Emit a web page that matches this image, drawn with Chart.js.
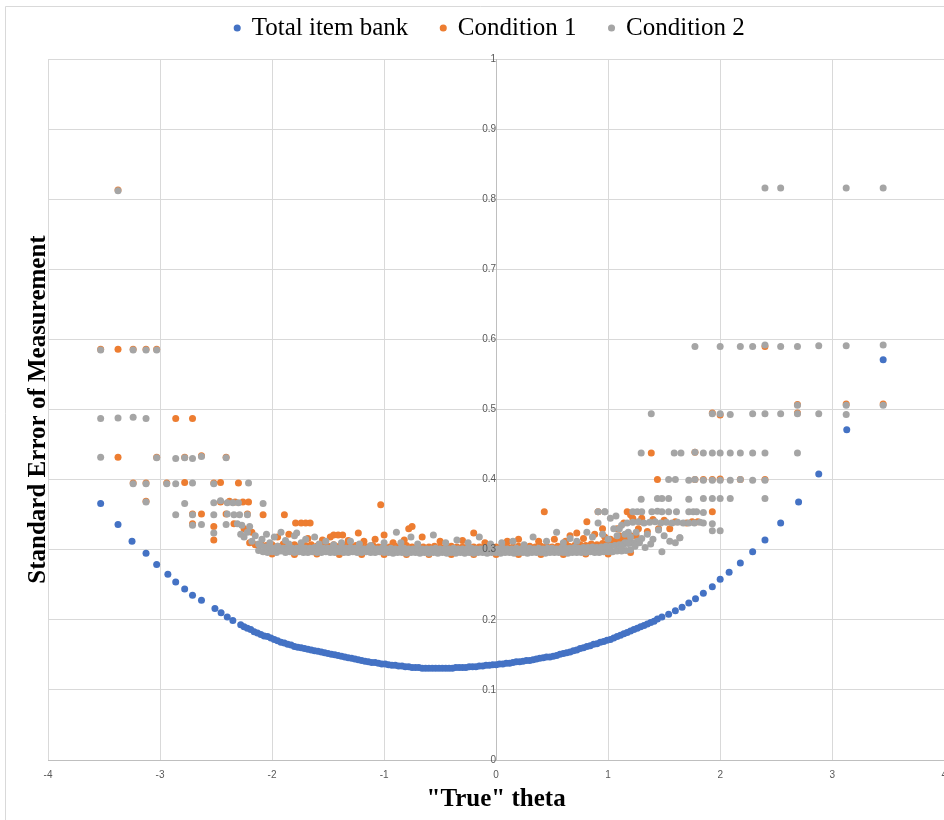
<!DOCTYPE html>
<html><head><meta charset="utf-8">
<script src="https://cdn.jsdelivr.net/npm/chart.js@4.4.1/dist/chart.umd.min.js"></script>
<style>html,body{margin:0;padding:0;background:#fff;overflow:hidden;width:944px;height:820px}canvas{display:block}</style>
</head><body><canvas id="c" width="956" height="820"></canvas>
<script>
const seriesNames = ['Total item bank', 'Condition 1', 'Condition 2'];
const xTitle = '"True" theta';
const yTitle = 'Standard Error of Measurement';
const xTickLabels = ['-4','-3','-2','-1','0','1','2','3','4'];
const yTickLabels = ['0','0.1','0.2','0.3','0.4','0.5','0.6','0.7','0.8','0.9','1'];

// Total item bank
const bankTheta = [-3.53,-3.375,-3.25,-3.125,-3.03,-2.93,-2.86,-2.78,-2.71,-2.63,-2.51,-2.455,-2.40,-2.35,
 -2.28,-2.25,-2.22,-2.19,-2.16,-2.13,-2.10,-2.07,-2.04,-2.01,
 -1.98,-1.95,-1.92,-1.89,-1.86,-1.83,-1.80,-1.77,-1.74,-1.71,
 -1.68,-1.65,-1.62,-1.59,-1.56,-1.53,-1.50,-1.47,-1.44,-1.41,
 -1.38,-1.35,-1.32,-1.29,-1.26,-1.23,-1.20,-1.17,-1.14,-1.11,
 -1.08,-1.05,-1.02,-0.99,-0.96,-0.93,-0.90,-0.87,-0.84,-0.81,
 -0.78,-0.75,-0.72,-0.69,-0.66,-0.63,-0.60,-0.57,-0.54,-0.51,
 -0.48,-0.45,-0.42,-0.39,-0.36,-0.33,-0.30,-0.27,-0.24,-0.21,
 -0.18,-0.15,-0.12,-0.09,-0.06,-0.03,0.00,0.03,0.06,0.09,
 0.12,0.15,0.18,0.21,0.24,0.27,0.30,0.33,0.36,0.39,
 0.42,0.45,0.48,0.51,0.54,0.57,0.60,0.63,0.66,0.69,
 0.72,0.75,0.78,0.81,0.84,0.87,0.90,0.93,0.96,0.99,
 1.02,1.05,1.08,1.11,1.14,1.17,1.20,1.23,1.26,1.29,
 1.32,1.35,1.38,1.41,1.44,
 1.48,1.54,1.60,1.66,1.72,1.78,1.85,1.93,2.00,2.08,2.18,2.29,2.40,2.54,2.70,2.88,3.13,3.455];
const bankSE = [0.366,0.336,0.312,0.295,0.279,0.265,0.254,0.244,0.235,0.228,0.216,0.210,0.204,0.199,
 0.193,0.190,0.188,0.186,0.183,0.181,0.179,0.177,0.176,0.174,
 0.172,0.170,0.168,0.167,0.165,0.164,0.162,0.161,0.160,0.159,
 0.158,0.157,0.156,0.155,0.154,0.153,0.152,0.151,0.150,0.149,
 0.148,0.147,0.146,0.145,0.144,0.143,0.142,0.141,0.140,0.139,
 0.139,0.138,0.137,0.137,0.136,0.135,0.135,0.134,0.134,0.133,
 0.133,0.132,0.132,0.132,0.131,0.131,0.131,0.131,0.131,0.131,
 0.131,0.131,0.131,0.131,0.132,0.132,0.132,0.132,0.133,0.133,
 0.133,0.134,0.134,0.135,0.135,0.136,0.136,0.137,0.137,0.138,
 0.138,0.139,0.140,0.140,0.141,0.142,0.142,0.143,0.144,0.145,
 0.146,0.147,0.147,0.148,0.149,0.151,0.152,0.153,0.154,0.156,
 0.157,0.159,0.160,0.162,0.163,0.165,0.166,0.168,0.169,0.171,
 0.172,0.174,0.176,0.178,0.180,0.182,0.184,0.186,0.188,0.190,
 0.192,0.194,0.196,0.198,0.201,
 0.204,0.208,0.213,0.218,0.224,0.230,0.238,0.247,0.258,0.268,0.281,0.297,0.314,0.338,0.368,0.408,0.471,0.571];

// Condition 1: dense band near 0.3
const c1BandTheta = [-2.20,-2.15,-2.10,-2.05,-2.00,-1.95,-1.90,-1.85,-1.80,-1.75,
 -1.70,-1.65,-1.60,-1.55,-1.50,-1.45,-1.40,-1.35,-1.30,-1.25,
 -1.20,-1.15,-1.10,-1.05,-1.00,-0.95,-0.90,-0.85,-0.80,-0.75,
 -0.70,-0.65,-0.60,-0.55,-0.50,-0.45,-0.40,-0.35,-0.30,-0.25,
 -0.20,-0.15,-0.10,-0.05,0.00,0.05,0.10,0.15,0.20,0.25,
 0.30,0.35,0.40,0.45,0.50,0.55,0.60,0.65,0.70,0.75,
 0.80,0.85,0.90,0.95,1.00,1.05,1.10,1.15,1.20,1.25,
 -2.0,-1.8,-1.6,-1.4,-1.2,-1.0,-0.8,-0.6,-0.4,-0.2,0.0,0.2,0.4,0.6,0.8,1.0,1.2];
const c1BandSE = [0.310,0.307,0.308,0.306,0.307,0.305,0.308,0.306,0.307,0.305,
 0.306,0.307,0.305,0.306,0.305,0.307,0.305,0.306,0.305,0.306,
 0.305,0.304,0.306,0.304,0.305,0.304,0.305,0.304,0.306,0.304,
 0.305,0.304,0.304,0.305,0.304,0.304,0.305,0.304,0.304,0.305,
 0.304,0.304,0.305,0.304,0.304,0.305,0.304,0.304,0.305,0.304,
 0.305,0.304,0.305,0.305,0.304,0.305,0.306,0.305,0.306,0.307,
 0.306,0.308,0.307,0.309,0.310,0.312,0.314,0.316,0.318,0.320,
 0.294,0.293,0.294,0.293,0.293,0.293,0.293,0.293,0.293,0.293,0.293,0.293,0.293,0.293,0.294,0.294,0.296];
// Condition 1: scattered points
const c1PtsTheta = [-3.375,-3.53,-3.375,-3.24,-3.125,-3.03,-3.375,-2.86,-2.71,-3.03,
 -2.78,-2.63,-2.41,-3.24,-3.125,-2.94,-2.78,-2.52,-2.46,-2.30,
 -3.125,-2.46,-2.38,-2.33,-2.26,-2.21,-2.71,-2.63,-2.41,-2.22,
 -2.08,-1.89,-2.71,-2.52,-2.52,-2.34,-2.25,-2.18,-1.79,-1.74,
 -1.70,-1.66,-1.45,-1.41,-1.37,-1.23,-1.00,-1.03,-0.75,-0.78,
 -0.20,0.43,0.72,0.81,0.91,1.17,1.385,1.44,1.775,1.85,
 1.93,2.00,2.18,2.40,1.775,1.93,2.00,2.69,2.69,3.125,
 3.455,2.40,1.93,1.20,1.30,1.40,1.50,1.60,1.70,1.27,
 1.35,1.45,1.55,1.20,1.10,1.02,0.95,0.62,1.75,1.80,
 -1.95,-1.85,-1.68,-1.55,-1.48,-1.32,-1.18,-1.08,-0.92,-0.82,
 -0.66,-0.50,-0.30,-0.10,0.10,0.20,0.38,0.52,0.66,0.78,
 0.88,0.97,1.08,1.14,1.22,1.28];
const c1PtsSE = [0.813,0.586,0.586,0.586,0.586,0.586,0.432,0.487,0.487,0.432,
 0.432,0.434,0.432,0.395,0.395,0.395,0.396,0.395,0.396,0.395,
 0.369,0.368,0.369,0.368,0.368,0.368,0.351,0.351,0.351,0.351,
 0.350,0.350,0.337,0.333,0.314,0.337,0.330,0.325,0.338,0.338,
 0.338,0.338,0.321,0.321,0.321,0.324,0.321,0.364,0.333,0.330,
 0.324,0.354,0.324,0.340,0.354,0.354,0.438,0.400,0.400,0.400,
 0.400,0.401,0.400,0.400,0.439,0.495,0.492,0.495,0.507,0.508,
 0.508,0.590,0.354,0.350,0.345,0.343,0.342,0.340,0.338,0.330,
 0.326,0.330,0.330,0.320,0.320,0.315,0.330,0.312,0.340,0.340,
 0.318,0.322,0.316,0.314,0.318,0.313,0.312,0.315,0.310,0.314,
 0.318,0.312,0.313,0.310,0.312,0.315,0.312,0.315,0.320,0.316,
 0.322,0.318,0.330,0.338,0.345,0.340];

// Condition 2: dense band near 0.3
const c2BandTheta = [-2.12,-2.08,-2.04,-2.00,-1.96,-1.92,-1.88,-1.84,-1.80,-1.76,
 -1.72,-1.68,-1.64,-1.60,-1.56,-1.52,-1.48,-1.44,-1.40,-1.36,
 -1.32,-1.28,-1.24,-1.20,-1.16,-1.12,-1.08,-1.04,-1.00,-0.96,
 -0.92,-0.88,-0.84,-0.80,-0.76,-0.72,-0.68,-0.64,-0.60,-0.56,
 -0.52,-0.48,-0.44,-0.40,-0.36,-0.32,-0.28,-0.24,-0.20,-0.16,
 -0.12,-0.08,-0.04,0.00,0.04,0.08,0.12,0.16,0.20,0.24,
 0.28,0.32,0.36,0.40,0.44,0.48,0.52,0.56,0.60,0.64,
 0.68,0.72,0.76,0.80,0.84,0.88,0.92,0.96,1.00,1.04,
 1.08,1.12,1.16,1.20,
 -2.10,-2.06,-2.02,-1.98,-1.94,-1.90,-1.86,-1.82,-1.78,-1.74,
 -1.70,-1.66,-1.62,-1.58,-1.54,-1.50,-1.46,-1.42,-1.38,-1.34,
 -1.30,-1.26,-1.22,-1.18,-1.14,-1.10,-1.06,-1.02,-0.98,-0.94,
 -0.90,-0.86,-0.82,-0.78,-0.74,-0.70,-0.66,-0.62,-0.58,-0.54,
 -0.50,-0.46,-0.42,-0.38,-0.34,-0.30,-0.26,-0.22,-0.18,-0.14,
 -0.10,-0.06,-0.02,0.02,0.06,0.10,0.14,0.18,0.22,0.26,
 0.30,0.34,0.38,0.42,0.46,0.50,0.54,0.58,0.62,0.66,
 0.70,0.74,0.78,0.82,0.86,0.90,0.94,0.98,1.02,1.06,
 1.10,1.14,1.18,1.22,1.26];
const c2BandSE = [0.299,0.297,0.296,0.297,0.296,0.298,0.296,0.297,0.296,0.297,
 0.296,0.296,0.297,0.296,0.296,0.297,0.296,0.296,0.297,0.296,
 0.296,0.297,0.296,0.296,0.297,0.296,0.296,0.297,0.296,0.296,
 0.295,0.296,0.296,0.295,0.296,0.296,0.295,0.296,0.295,0.296,
 0.295,0.296,0.295,0.296,0.295,0.296,0.295,0.296,0.295,0.296,
 0.296,0.295,0.296,0.296,0.295,0.296,0.296,0.295,0.296,0.296,
 0.295,0.296,0.296,0.296,0.295,0.296,0.296,0.296,0.296,0.295,
 0.296,0.296,0.296,0.296,0.297,0.296,0.296,0.297,0.297,0.297,
 0.298,0.298,0.299,0.300,
 0.306,0.304,0.303,0.302,0.303,0.302,0.303,0.302,0.302,0.303,
 0.302,0.302,0.303,0.302,0.302,0.302,0.303,0.302,0.302,0.302,
 0.303,0.302,0.302,0.301,0.302,0.302,0.301,0.302,0.301,0.302,
 0.301,0.301,0.302,0.301,0.301,0.302,0.301,0.301,0.301,0.302,
 0.301,0.301,0.301,0.302,0.301,0.301,0.301,0.302,0.301,0.301,
 0.302,0.301,0.301,0.301,0.302,0.301,0.301,0.302,0.301,0.301,
 0.302,0.301,0.302,0.301,0.302,0.302,0.301,0.302,0.302,0.302,
 0.303,0.302,0.303,0.303,0.304,0.303,0.304,0.305,0.305,0.306,
 0.307,0.308,0.309,0.310,0.312];
// Condition 2: scattered points
const c2PtsTheta = [-3.375,-3.53,-3.24,-3.125,-3.03,-3.53,-3.375,-3.24,-3.125,-3.53,
 -3.03,-2.86,-2.78,-2.71,-2.63,-2.41,-3.24,-3.125,-2.94,-2.86,
 -2.71,-2.52,-2.21,-3.125,-2.78,-2.52,-2.46,-2.40,-2.35,-2.30,
 -2.08,-2.86,-2.71,-2.52,-2.40,-2.34,-2.29,-2.22,-2.71,-2.63,
 -2.41,-2.31,-2.27,-2.52,-2.20,-2.28,-2.25,-2.22,-2.18,-2.15,
 -2.12,-2.09,-2.05,-2.02,-1.98,-1.95,-1.92,-1.88,-1.85,-1.80,
 -1.78,-1.74,-1.70,-1.62,-1.58,-1.52,-1.45,-1.38,-1.30,-1.22,
 -1.12,-1.00,-0.89,-0.85,-0.76,-0.70,-0.56,-0.45,-0.35,-0.25,
 -0.15,-0.05,0.05,0.15,0.25,0.33,0.45,0.54,0.60,0.66,
 0.72,0.81,0.86,0.91,0.97,0.95,1.00,1.05,1.08,1.12,
 1.15,1.18,1.10,1.15,1.20,1.25,1.30,1.35,1.40,1.45,
 1.50,1.55,1.60,1.64,1.48,1.12,1.18,1.24,1.28,1.33,
 1.38,2.40,2.54,3.125,3.455,1.775,2.00,2.18,2.29,2.40,
 2.54,2.69,2.88,3.125,3.455,2.69,3.125,3.455,1.385,1.93,
 2.00,2.09,2.29,2.40,2.54,2.69,2.88,3.125,1.295,1.59,
 1.65,1.775,1.85,1.93,2.00,2.09,2.18,2.29,2.40,2.69,
 1.54,1.60,1.72,1.775,1.85,1.93,2.00,2.09,2.18,2.29,
 2.40,1.295,1.44,1.48,1.54,1.72,1.85,1.93,2.00,2.09,
 2.40,1.22,1.26,1.30,1.39,1.44,1.48,1.54,1.61,1.72,
 1.76,1.79,1.85,1.17,1.22,1.27,1.32,1.37,1.42,1.47,
 1.52,1.57,1.62,1.67,1.72,1.77,1.82,1.85,1.93,1.93,
 2.00,1.64,0.91,0.97,1.02,1.07];
const c2PtsSE = [0.812,0.585,0.585,0.585,0.585,0.487,0.488,0.489,0.487,0.432,
 0.431,0.430,0.431,0.430,0.433,0.431,0.394,0.394,0.394,0.394,
 0.395,0.394,0.395,0.368,0.366,0.367,0.370,0.367,0.367,0.367,
 0.366,0.350,0.350,0.350,0.351,0.350,0.350,0.350,0.335,0.336,
 0.336,0.337,0.335,0.324,0.333,0.322,0.318,0.325,0.312,0.320,
 0.308,0.315,0.322,0.310,0.318,0.305,0.325,0.313,0.308,0.320,
 0.324,0.310,0.315,0.318,0.308,0.312,0.307,0.310,0.312,0.308,
 0.306,0.310,0.325,0.310,0.318,0.308,0.321,0.310,0.314,0.310,
 0.318,0.308,0.310,0.312,0.307,0.318,0.312,0.325,0.310,0.316,
 0.312,0.325,0.318,0.338,0.354,0.322,0.315,0.330,0.320,0.335,
 0.310,0.325,0.330,0.322,0.318,0.325,0.316,0.322,0.315,0.328,
 0.320,0.312,0.310,0.317,0.297,0.305,0.310,0.305,0.310,0.303,
 0.308,0.816,0.816,0.816,0.816,0.590,0.590,0.590,0.590,0.592,
 0.590,0.590,0.591,0.591,0.592,0.506,0.506,0.506,0.494,0.494,
 0.494,0.493,0.494,0.494,0.494,0.494,0.494,0.493,0.438,0.438,
 0.438,0.439,0.438,0.438,0.438,0.438,0.438,0.438,0.438,0.438,
 0.400,0.400,0.399,0.400,0.399,0.399,0.399,0.399,0.400,0.399,
 0.399,0.372,0.373,0.373,0.373,0.372,0.373,0.373,0.373,0.373,
 0.373,0.354,0.354,0.354,0.354,0.355,0.354,0.354,0.354,0.354,
 0.354,0.354,0.353,0.338,0.339,0.340,0.338,0.339,0.340,0.338,
 0.339,0.338,0.339,0.338,0.338,0.338,0.339,0.338,0.337,0.327,
 0.327,0.317,0.354,0.354,0.345,0.348];

const toPts = (xs, ys) => xs.map((x, i) => ({x: x, y: ys[i]}));
const colors = ['#4472C4', '#ED7D31', '#A5A5A5'];
const serif = '"Liberation Serif", "Times New Roman", serif';
const sans = '"Liberation Sans", Arial, sans-serif';

const framePlugin = {
  id: 'frame',
  beforeDraw(chart) {
    const c = chart.ctx;
    c.save();
    c.fillStyle = '#fff';
    c.fillRect(0, 0, chart.width, chart.height);
    c.strokeStyle = '#D9D9D9';
    c.lineWidth = 1;
    c.beginPath();
    c.moveTo(5.5, chart.height); c.lineTo(5.5, 6.5); c.lineTo(chart.width, 6.5);
    c.stroke();
    c.restore();
  }
};
const legendNudge = {
  id: 'legendNudge',
  afterLayout(chart) {
    const lg = chart.legend;
    if (!lg) return;
    lg.top -= 8.5; lg.bottom -= 8.5;
    lg.left += 1.5; lg.right += 1.5;
  }
};

const mk = (i, data, order) => ({
  label: seriesNames[i], data: data, yAxisID: 'y', xAxisID: 'x',
  backgroundColor: colors[i], borderColor: colors[i],
  pointRadius: 3.5, pointBorderWidth: 0, pointHoverRadius: 3.5, order: order
});

new Chart(document.getElementById('c'), {
  type: 'scatter',
  data: {
    datasets: [
      mk(0, toPts(bankTheta, bankSE), 3),
      mk(1, toPts(c1BandTheta, c1BandSE).concat(toPts(c1PtsTheta, c1PtsSE)), 2),
      mk(2, toPts(c2BandTheta, c2BandSE).concat(toPts(c2PtsTheta, c2PtsSE)), 1)
    ]
  },
  options: {
    responsive: false, animation: false, events: [],
    layout: {padding: {left: 21, top: -9, right: 0, bottom: 0}},
    plugins: {
      legend: {
        position: 'top', align: 'center',
        labels: {
          usePointStyle: true, pointStyle: 'circle', boxWidth: 4, boxHeight: 5, padding: 33,
          color: '#000', font: {family: serif, size: 25},
          sort: (a, b) => a.datasetIndex - b.datasetIndex
        }
      },
      tooltip: {enabled: false}
    },
    scales: {
      x: {
        type: 'linear', position: 'bottom', min: -4, max: 4,
        ticks: {stepSize: 1, padding: 9, color: '#595959', font: {family: sans, size: 10},
          callback: (v, i) => xTickLabels[i]},
        grid: {color: '#D9D9D9', drawTicks: false},
        border: {color: '#BFBFBF'},
        title: {display: true, text: xTitle, color: '#000',
          font: {family: serif, size: 25, weight: 'bold', lineHeight: 1.2}, padding: {top: -5, bottom: 5}}
      },
      y: {
        type: 'linear', position: {x: 0}, min: 0, max: 1,
        ticks: {stepSize: 0.1, padding: 6, z: 1, color: '#595959', font: {family: sans, size: 10},
          callback: (v, i) => yTickLabels[i]},
        grid: {color: '#D9D9D9', drawTicks: false},
        border: {color: '#BFBFBF'}
      },
      yTitle: {
        type: 'linear', position: 'left', min: 0, max: 1,
        grid: {display: false, drawTicks: false}, border: {display: false},
        ticks: {display: false},
        title: {display: true, text: yTitle, color: '#000',
          font: {family: serif, size: 25, weight: 'bold', lineHeight: 1}, padding: {top: 5, bottom: -3}}
      }
    }
  },
  plugins: [framePlugin, legendNudge]
});
</script></body></html>
